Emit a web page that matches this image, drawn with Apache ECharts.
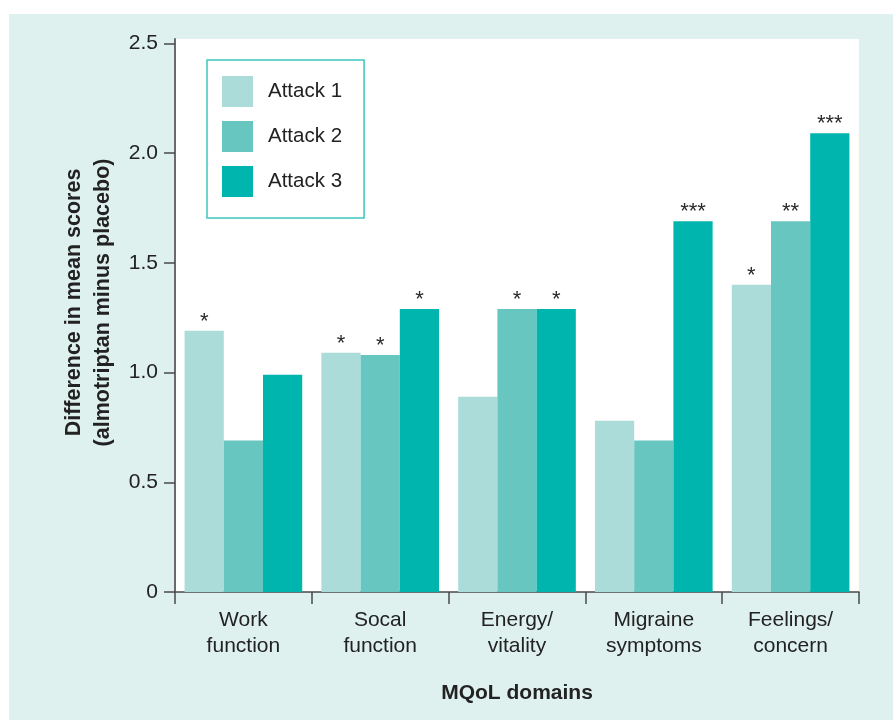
<!DOCTYPE html>
<html>
<head>
<meta charset="utf-8">
<title>MQoL domains</title>
<script src="https://cdn.jsdelivr.net/npm/echarts@6/dist/echarts.min.js"></script>
<style>
  html, body { margin: 0; padding: 0; background: #ffffff; }
  #panel {
    position: absolute; left: 9px; top: 14px; right: 0; bottom: 0;
    background: #def1ef;
  }
  #chart { position: absolute; left: 0; top: 0; width: 893px; height: 720px; }
</style>
</head>
<body>
<div id="panel"></div>
<div id="chart"></div>
<script>
// MQoL domain categories
const domains = ['Work\nfunction', 'Socal\nfunction', 'Energy/\nvitality', 'Migraine\nsymptoms', 'Feelings/\nconcern'];

// Difference in mean scores (almotriptan minus placebo) per attack
const attack1 = [1.19, 1.09, 0.89, 0.78, 1.40];
const attack2 = [0.69, 1.08, 1.29, 0.69, 1.69];
const attack3 = [0.99, 1.29, 1.29, 1.69, 2.09];

// Significance markers shown above each bar
const sig1 = ['*', '*', '', '', '*'];
const sig2 = ['', '*', '*', '', '**'];
const sig3 = ['', '*', '*', '***', '***'];

// Y-axis ticks
const yTickValues = [0, 0.5, 1.0, 1.5, 2.0, 2.5];
const yTickLabels = ['0', '0.5', '1.0', '1.5', '2.0', '2.5'];

const seriesNames = ['Attack 1', 'Attack 2', 'Attack 3'];
const seriesColors = ['#acdcd9', '#68c6c1', '#00b5ad'];

const FONT = '"Liberation Sans", Arial, Helvetica, sans-serif';

function makeSeries(name, values, marks, color) {
  return {
    name: name,
    type: 'bar',
    data: values,
    itemStyle: { color: color },
    barGap: '0%',
    barCategoryGap: '14%',
    label: {
      show: true,
      position: 'top',
      distance: 0,
      offset: [0, 2],
      color: '#2a2a2a',
      fontFamily: FONT,
      fontSize: 22,
      formatter: p => marks[p.dataIndex]
    },
    emphasis: { disabled: true }
  };
}

const chart = echarts.init(document.getElementById('chart'), null, { renderer: 'canvas' });

chart.setOption({
  animation: false,
  backgroundColor: 'transparent',
  textStyle: { fontFamily: FONT },
  grid: {
    left: 175, right: 34, top: 39, bottom: 128,
    show: true, backgroundColor: '#ffffff', borderWidth: 0
  },
  legend: {
    orient: 'vertical',
    left: 207, top: 60,
    itemWidth: 31, itemHeight: 31, itemGap: 14,
    padding: [16, 22, 21, 15],
    borderColor: '#3ec6be', borderWidth: 1.5,
    backgroundColor: '#ffffff',
    icon: 'rect',
    textStyle: { fontFamily: FONT, fontSize: 20.5, color: '#222', padding: [0, 0, 0, 10] },
    data: seriesNames
  },
  xAxis: {
    type: 'category',
    data: domains,
    axisLine: { lineStyle: { color: '#4a4a4a', width: 1.5 } },
    axisTick: { show: true, length: 12, alignWithLabel: false, lineStyle: { color: '#4a4a4a', width: 1.5 } },
    axisLabel: {
      color: '#222', fontFamily: FONT, fontSize: 21, lineHeight: 26, margin: 15,
      interval: 0
    },
    name: 'MQoL domains',
    nameLocation: 'middle',
    nameGap: 91,
    nameTextStyle: { fontFamily: FONT, fontSize: 21, fontWeight: 'bold', color: '#222' }
  },
  yAxis: {
    type: 'value',
    min: 0,
    max: 2.52,
    splitLine: { show: false },
    axisLine: { show: true, lineStyle: { color: '#6a6a6a', width: 2 } },
    axisTick: { show: true, length: 11, customValues: yTickValues, lineStyle: { color: '#4a4a4a', width: 1.5 } },
    axisLabel: {
      customValues: yTickValues,
      formatter: v => yTickLabels[yTickValues.indexOf(v)] ?? '',
      color: '#222', fontFamily: FONT, fontSize: 21, margin: 17
    },
    name: 'Difference in mean scores\n(almotriptan minus placebo)',
    nameLocation: 'middle',
    nameGap: 57,
    nameRotate: 90,
    nameTextStyle: {
      fontFamily: FONT, fontSize: 21.5, fontWeight: 'bold', color: '#222',
      lineHeight: 29, padding: [0, 0, 0, 26]
    }
  },
  series: [
    makeSeries(seriesNames[0], attack1, sig1, seriesColors[0]),
    makeSeries(seriesNames[1], attack2, sig2, seriesColors[1]),
    makeSeries(seriesNames[2], attack3, sig3, seriesColors[2])
  ]
});
</script>
</body>
</html>
